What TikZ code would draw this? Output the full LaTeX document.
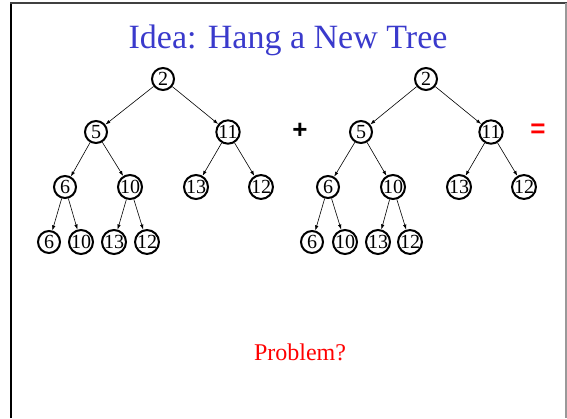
\documentclass[tikz,border=0pt]{standalone}
\usepackage{fontspec}
\setmainfont{Liberation Serif}
\newfontfamily\opfont{Liberation Sans}
\usetikzlibrary{arrows.meta}
\definecolor{titleblue}{RGB}{58,58,204}
\begin{document}
\begin{tikzpicture}[x=1pt,y=-1pt,
  key/.style={circle,draw,line width=2pt,minimum size=22pt,inner sep=0pt,
    font=\fontsize{20}{20}\selectfont},
  edge/.style={line width=0.6pt,-{Latex[length=5pt,width=3.5pt]}}]
\useasboundingbox (0,0) rectangle (567,418);
% slide frame
\draw[line width=2pt,black] (11,418) -- (11,3);
\draw[line width=2pt,black!75] (10,3) -- (567,3);
\draw[line width=1.5pt,black!40] (566,3) -- (566,418);
% title
\node[text=titleblue,font=\fontsize{34}{34}\selectfont] (title) at (288,40) {Idea: Hang a New Tree};
% left tree
\node[key] (a) at (163,79) {2};
\node[key] (b) at (96,132) {5};
\node[key] (c) at (228,132) {11};
\node[key] (d) at (65,187) {6};
\node[key] (e) at (130,187) {10};
\node[key] (f) at (196,187) {13};
\node[key] (g) at (261,187) {12};
\node[key] (h) at (49,242) {6};
\node[key] (i) at (81,242) {10};
\node[key] (j) at (114,242) {13};
\node[key] (k) at (147,242) {12};
\foreach \p/\q in {a/b,a/c,b/d,b/e,c/f,c/g,d/h,d/i,e/j,e/k}
  \draw[edge] (\p) -- (\q);
% right tree
\node[key] (A) at (426,79) {2};
\node[key] (B) at (361,132) {5};
\node[key] (C) at (491,132) {11};
\node[key] (D) at (328,187) {6};
\node[key] (E) at (393,187) {10};
\node[key] (F) at (459,187) {13};
\node[key] (G) at (524,187) {12};
\node[key] (H) at (312,242) {6};
\node[key] (I) at (345,242) {10};
\node[key] (J) at (378,242) {13};
\node[key] (K) at (410,242) {12};
\foreach \p/\q in {A/B,A/C,B/D,B/E,C/F,C/G,D/H,D/I,E/J,E/K}
  \draw[edge] (\p) -- (\q);
% operators
\node[font=\opfont\bfseries\fontsize{26}{26}\selectfont] (plus) at (300,131) {+};
\node[text=red,font=\opfont\bfseries\fontsize{26}{26}\selectfont] (eq) at (538,131) {=};
% question
\node[text=red,font=\fontsize{24}{24}\selectfont] (q) at (300,352) {Problem?};
\end{tikzpicture}
\end{document}
